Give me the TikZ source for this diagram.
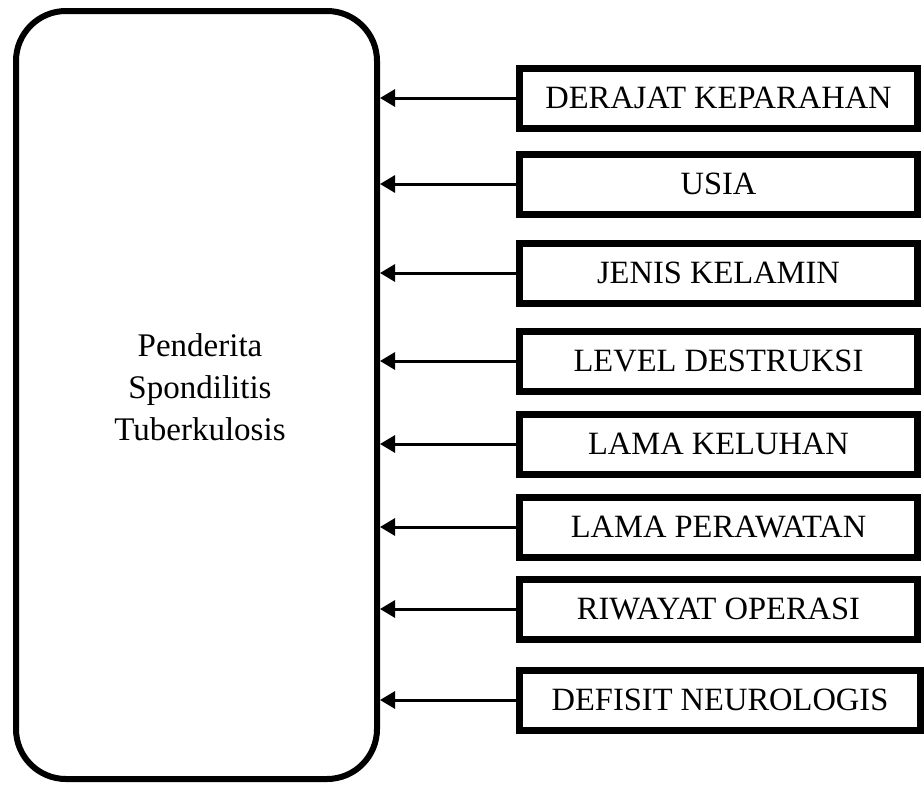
\documentclass[tikz,border=0pt]{standalone}
\usepackage{fontspec}
\setmainfont{Liberation Serif}
\usetikzlibrary{arrows.meta}
\begin{document}
\begin{tikzpicture}[x=1pt,y=-1pt,
  factor/.style={draw=black,line width=7pt,inner sep=0pt,minimum width=398pt,minimum height=60pt,font=\fontsize{32.5}{38}\selectfont},
  mainbox/.style={draw=black,line width=6pt,rounded corners=50pt,inner sep=0pt,minimum width=361pt,minimum height=768pt},
  arr/.style={line width=3pt,-{Triangle[length=15pt,width=17pt]}}]
\useasboundingbox (0,0) rectangle (924,785);
\node[mainbox] (main) at (196.5,395) {};
\node[align=center,font=\fontsize{33}{42}\selectfont] (label) at (200,387) {Penderita\\Spondilitis\\Tuberkulosis};
\node[factor] (f1) at (718.5,98) {DERAJAT KEPARAHAN};
\node[factor] (f2) at (718.5,184) {USIA};
\node[factor] (f3) at (718.5,273) {JENIS KELAMIN};
\node[factor] (f4) at (718.5,361) {LEVEL DESTRUKSI};
\node[factor] (f5) at (718.5,444) {LAMA KELUHAN};
\node[factor] (f6) at (718.5,527) {LAMA PERAWATAN};
\node[factor] (f7) at (718.5,609) {RIWAYAT OPERASI};
\node[factor,minimum width=401pt] (f8) at (720,700) {DEFISIT NEUROLOGIS};
\foreach \i in {1,...,8}{
  \draw[arr] (f\i.west) -- (f\i.west -| main.east);
}
\end{tikzpicture}
\end{document}
